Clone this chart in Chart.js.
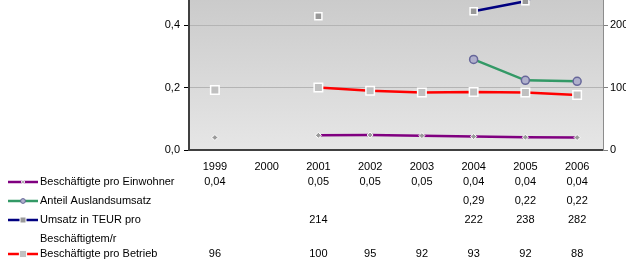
<!DOCTYPE html>
<html lang="de">
<head>
    <meta charset="UTF-8">
    <title>Beschäftigte und Umsatz</title>
    <script src="https://cdn.jsdelivr.net/npm/chart.js"></script>
    <style>
        body { margin: 0; background: #fff; }
        #wrap { position: relative; width: 626px; height: 265px; overflow: hidden; }
        #chart { position: absolute; left: 0; top: -48px; }
    </style>
</head>
<body>
    <div id="wrap"><canvas id="chart" width="626" height="313"></canvas></div>

    <script>
        // data
        const years = ['1999', '2000', '2001', '2002', '2003', '2004', '2005', '2006'];
        const einwohner = [0.04, null, 0.047, 0.048, 0.046, 0.043, 0.041, 0.040];
        const auslandsumsatz = [null, null, null, null, null, 0.29, 0.223, 0.22];
        const umsatzTeur = [null, null, 214, null, null, 222, 238, 282];
        const proBetrieb = [96, null, 100, 95, 92, 93, 92, 88];
        const leftTicks = [0, 0.2, 0.4, 0.6];
        const rightTicks = [0, 100, 200, 300];

        const SHIFT = 48; // canvas is moved up, top of the plot is cut off
        const font = '11px "Liberation Sans", Arial, sans-serif';

        function komma(v, d) {
            return v.toFixed(d).replace('.', ',');
        }

        const rows = [
            { y: 182, label: ['Beschäftigte pro Einwohner'], fmt: v => komma(v, 2) },
            { y: 201, label: ['Anteil Auslandsumsatz'], fmt: v => komma(v, 2) },
            { y: 220, label: ['Umsatz in TEUR pro', 'Beschäftigtem/r'], fmt: v => komma(v, 0) },
            { y: 254, label: ['Beschäftigte pro Betrieb'], fmt: v => komma(v, 0) }
        ];

        const plotBackground = {
            id: 'plotBackground',
            beforeDraw(chart) {
                const { ctx, chartArea: a } = chart;
                const g = ctx.createLinearGradient(0, a.top, 0, a.bottom);
                g.addColorStop(0, '#c4c4c4');
                g.addColorStop(1, '#e6e6e6');
                ctx.save();
                ctx.fillStyle = g;
                ctx.fillRect(a.left, a.top, a.right - a.left, a.bottom - a.top);
                ctx.restore();
            }
        };

        // small legend key marker, a bit smaller than the ones in the plot
        function drawMarker(ctx, ds, x, y) {
            ctx.save();
            ctx.fillStyle = ds.pointBackgroundColor;
            ctx.strokeStyle = ds.pointBorderColor;
            ctx.lineWidth = 1;
            const r = ds.pointRadius * 0.6;
            ctx.beginPath();
            if (ds.pointStyle === 'circle') {
                ctx.arc(x, y, r, 0, Math.PI * 2);
            } else if (ds.pointStyle === 'rectRot') {
                ctx.moveTo(x, y - r); ctx.lineTo(x + r, y); ctx.lineTo(x, y + r); ctx.lineTo(x - r, y); ctx.closePath();
            } else {
                ctx.rect(x - r, y - r, 2 * r, 2 * r);
            }
            ctx.fill();
            ctx.stroke();
            ctx.restore();
        }

        const dataTable = {
            id: 'dataTable',
            afterDraw(chart) {
                const { ctx } = chart;
                const xs = chart.scales.x;
                ctx.save();
                ctx.font = font;
                ctx.textBaseline = 'middle';
                chart.data.datasets.forEach((ds, i) => {
                    const row = rows[i];
                    const y = row.y + SHIFT;
                    // legend key
                    ctx.strokeStyle = ds.borderColor;
                    ctx.lineWidth = 2.5;
                    ctx.beginPath();
                    ctx.moveTo(8, y);
                    ctx.lineTo(38, y);
                    ctx.stroke();
                    drawMarker(ctx, ds, 23, y);
                    ctx.fillStyle = '#000';
                    ctx.textAlign = 'left';
                    row.label.forEach((t, k) => ctx.fillText(t, 40, y + k * 19));
                    ctx.textAlign = 'center';
                    ds.data.forEach((v, j) => {
                        if (v === null) return;
                        ctx.fillText(row.fmt(v), xs.getPixelForValue(j), y);
                    });
                });
                ctx.restore();
            }
        };

        const base = {
            borderWidth: 2.5,
            spanGaps: false,
            tension: 0
        };

        new Chart(document.getElementById('chart').getContext('2d'), {
            type: 'line',
            data: {
                labels: years,
                datasets: [
                    Object.assign({}, base, {
                        label: 'Beschäftigte pro Einwohner',
                        data: einwohner,
                        yAxisID: 'y',
                        borderColor: '#800080',
                        pointStyle: 'rectRot',
                        pointRadius: 3,
                        pointBackgroundColor: '#9a9a9a',
                        pointBorderColor: '#ffffff',
                        pointBorderWidth: 1
                    }),
                    Object.assign({}, base, {
                        label: 'Anteil Auslandsumsatz',
                        data: auslandsumsatz,
                        yAxisID: 'y',
                        borderColor: '#339966',
                        pointStyle: 'circle',
                        pointRadius: 4,
                        pointBackgroundColor: '#b0b0cc',
                        pointBorderColor: '#666699',
                        pointBorderWidth: 1.5
                    }),
                    Object.assign({}, base, {
                        label: 'Umsatz in TEUR pro Beschäftigtem/r',
                        data: umsatzTeur,
                        yAxisID: 'y1',
                        borderColor: '#000080',
                        pointStyle: 'rect',
                        pointRadius: 5,
                        pointBackgroundColor: '#999999',
                        pointBorderColor: '#ffffff',
                        pointBorderWidth: 1.5
                    }),
                    Object.assign({}, base, {
                        label: 'Beschäftigte pro Betrieb',
                        data: proBetrieb,
                        yAxisID: 'y1',
                        borderColor: '#ff0000',
                        pointStyle: 'rect',
                        pointRadius: 6,
                        pointBackgroundColor: '#c0c0c0',
                        pointBorderColor: '#ffffff',
                        pointBorderWidth: 1.5
                    })
                ]
            },
            options: {
                responsive: false,
                animation: false,
                layout: { padding: 0 },
                plugins: {
                    legend: { display: false },
                    tooltip: { enabled: false }
                },
                scales: {
                    x: {
                        offset: true,
                        grid: { display: false },
                        border: { color: '#404040', width: 2 },
                        ticks: { color: '#000', font: { family: '"Liberation Sans", Arial', size: 11 }, padding: 2 },
                        afterFit(s) { s.height = 115; }
                    },
                    y: {
                        position: 'left',
                        min: 0,
                        max: 0.6,
                        afterBuildTicks(s) { s.ticks = leftTicks.map(v => ({ value: v })); },
                        grid: { color: '#b4b4b4', tickColor: '#000', tickLength: 5 },
                        border: { color: '#404040', width: 2 },
                        ticks: {
                            color: '#000',
                            padding: 4,
                            font: { family: '"Liberation Sans", Arial', size: 11 },
                            callback: v => komma(v, 1)
                        },
                        afterFit(s) { s.width = 189; }
                    },
                    y1: {
                        position: 'right',
                        min: 0,
                        max: 300,
                        afterBuildTicks(s) { s.ticks = rightTicks.map(v => ({ value: v })); },
                        grid: { drawOnChartArea: false, tickColor: '#808080', tickLength: 5 },
                        border: { color: '#8c8c8c', width: 1 },
                        ticks: {
                            color: '#000',
                            padding: 2,
                            font: { family: '"Liberation Sans", Arial', size: 11 },
                            callback: v => String(v)
                        },
                        afterFit(s) { s.width = 23; }
                    }
                }
            },
            plugins: [plotBackground, dataTable]
        });
    </script>
</body>
</html>
